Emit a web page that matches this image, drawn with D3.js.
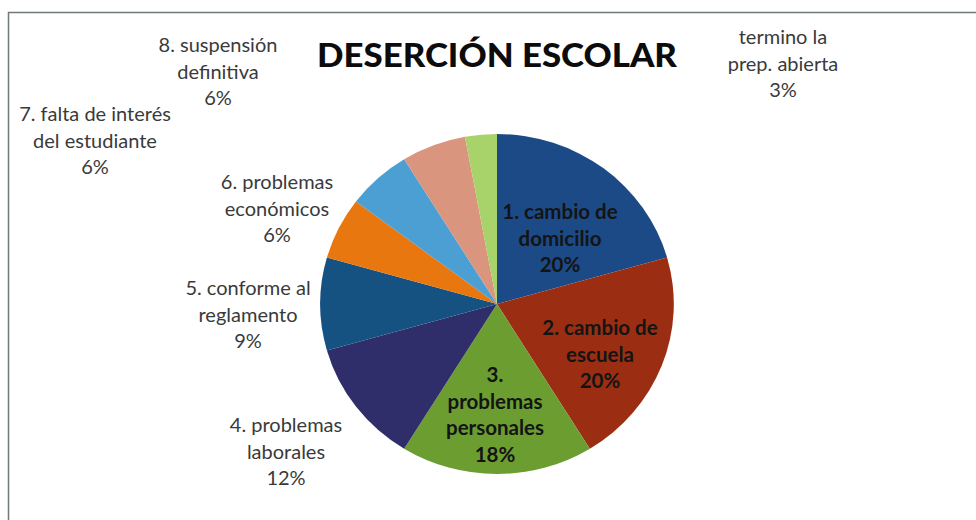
<!DOCTYPE html>
<html>
<head>
<meta charset="utf-8">
<script src="https://cdn.jsdelivr.net/npm/d3@7"></script>
<style>
  html, body { margin: 0; padding: 0; background: #fff; }
  svg { display: block; }
  text { font-family: Lato, "Open Sans", sans-serif; }
</style>
</head>
<body>
<svg id="chart" width="976" height="520"></svg>
<script>
// ---- data ----
const title = "DESERCIÓN ESCOLAR";
const categories = [
  ["1. cambio de", "domicilio"],
  ["2. cambio de", "escuela"],
  ["3.", "problemas", "personales"],
  ["4. problemas", "laborales"],
  ["5. conforme al", "reglamento"],
  ["6. problemas", "económicos"],
  ["7. falta de interés", "del estudiante"],
  ["8. suspensión", "definitiva"],
  ["termino la", "prep. abierta"]
];
const values = [20.6, 20.6, 17.6, 11.8, 8.8, 5.9, 5.9, 5.9, 2.9];
const percentLabels = ["20%", "20%", "18%", "12%", "9%", "6%", "6%", "6%", "3%"];
const colors = ["#1c4a86", "#9b2e12", "#6c9d31", "#2f2e6a", "#155181", "#e8770f", "#4b9fd2", "#d9957e", "#a8d36b"];

// ---- layout (not data) ----
const W = 976, H = 520;
const cx = 497, cy = 304, r = 170, sx = 1.04;
const labelLayout = [
  {x: 560, y: 212, inside: true},
  {x: 600, y: 328, inside: true},
  {x: 495, y: 375, inside: true},
  {x: 286, y: 425, inside: false},
  {x: 248, y: 288, inside: false},
  {x: 277, y: 182, inside: false},
  {x: 95,  y: 114, inside: false},
  {x: 218, y: 45,  inside: false},
  {x: 783, y: 37,  inside: false}
];

const svg = d3.select("#chart");

// frame
svg.append("rect")
  .attr("x", 8.5).attr("y", 12.5)
  .attr("width", W + 20).attr("height", H + 20)
  .attr("fill", "#fff")
  .attr("stroke", "#6f7a70").attr("stroke-width", 1.5);

// pie
const pie = d3.pie().sort(null).value(d => d);
const arc = d3.arc().innerRadius(0).outerRadius(r);
const arcs = pie(values);

const g = svg.append("g").attr("transform", `translate(${cx},${cy}) scale(${sx},1)`);
g.selectAll("path").data(arcs).join("path")
  .attr("d", arc)
  .attr("fill", (d, i) => colors[i])
  .attr("stroke", "none");

// title
svg.append("text")
  .attr("x", 497).attr("y", 67)
  .attr("text-anchor", "middle")
  .attr("font-size", 33).attr("font-weight", 900)
  .attr("fill", "#0c0c0c")
  .attr("textLength", 360).attr("lengthAdjust", "spacingAndGlyphs")
  .text(title);

// labels
const lineH = 26.5;
categories.forEach((lines, i) => {
  const L = labelLayout[i];
  const all = lines.concat([percentLabels[i]]);
  const t = svg.append("text")
    .attr("text-anchor", "middle")
    .attr("font-size", L.inside ? 20.5 : 20)
    .attr("font-weight", L.inside ? 700 : 400)
    .attr("fill", L.inside ? "#141414" : "#3a3a3a");
  all.forEach((s, k) => {
    t.append("tspan")
      .attr("x", L.x)
      .attr("y", L.y + k * lineH)
      .attr("dy", "0.35em")
      .text(s);
  });
});
</script>
</body>
</html>
